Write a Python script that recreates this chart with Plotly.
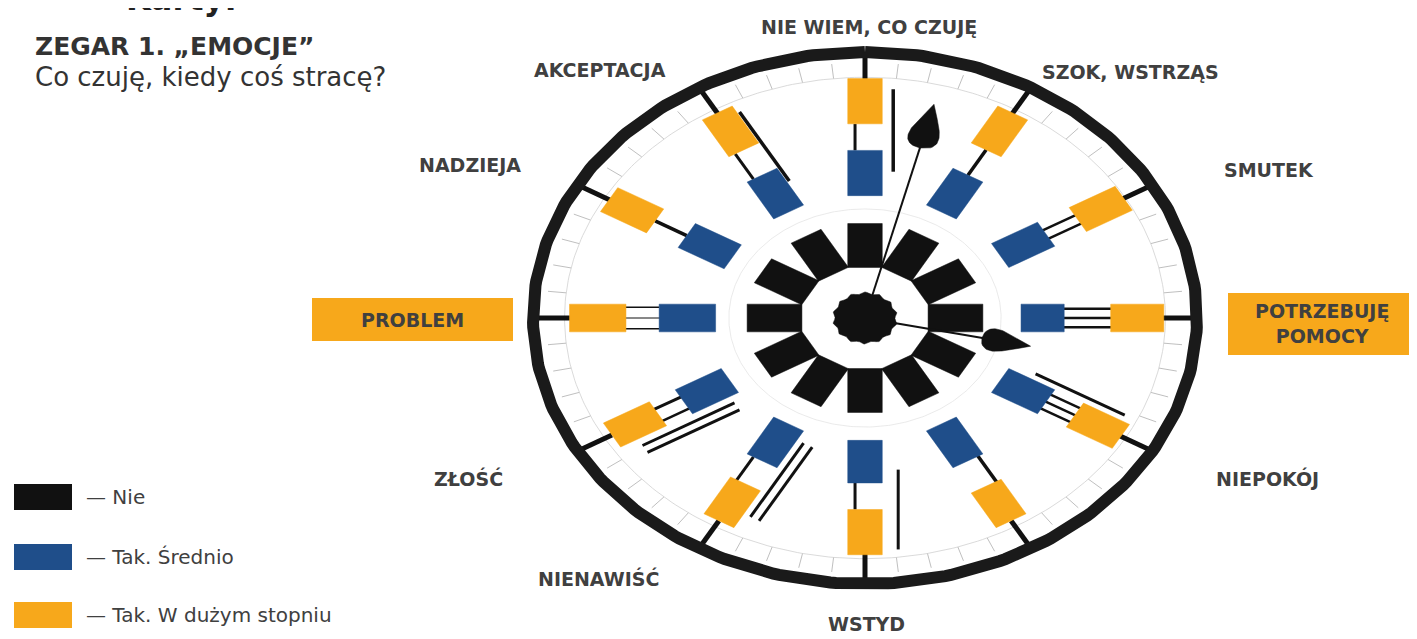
import numpy as np
import plotly.graph_objects as go

# ---------------- data ----------------
spoke_angles = [0, 30, 60, 90, 120, 150, 180, 210, 240, 270, 300, 330]  # degrees clockwise from 12 o'clock
black_r0 = [0.19] * 12
black_r1 = [0.355] * 12
blue_r0 = [0.46, 0.46, 0.47, 0.47, 0.47, 0.46, 0.46, 0.46, 0.47, 0.45, 0.46, 0.46]
blue_r1 = [0.63, 0.62, 0.63, 0.60, 0.63, 0.62, 0.62, 0.62, 0.63, 0.62, 0.62, 0.62]
yellow_r0 = [0.73, 0.73, 0.74, 0.74, 0.73, 0.73, 0.72, 0.72, 0.72, 0.72, 0.73, 0.73]
yellow_r1 = [0.90, 0.89, 0.90, 0.90, 0.89, 0.88, 0.89, 0.88, 0.88, 0.89, 0.89, 0.89]

# decorative connector lines: (spoke angle, perpendicular offset, r0, r1, width)
connectors = [
    (0, -0.03, 0.63, 0.73, 3), (0, 0.085, 0.55, 0.86, 3.5),
    (30, 0.0, 0.62, 0.73, 3.5),
    (60, -0.018, 0.60, 0.76, 2.5), (60, 0.018, 0.60, 0.76, 2.5),
    (90, -0.035, 0.58, 0.76, 2.5), (90, 0.0, 0.58, 0.76, 2.5), (90, 0.035, 0.58, 0.76, 2.5),
    (120, -0.03, 0.60, 0.76, 2.5), (120, 0.0, 0.60, 0.76, 2.5), (120, 0.03, 0.60, 0.76, 2.5),
    (120, -0.075, 0.55, 0.86, 3),
    (150, -0.035, 0.60, 0.80, 3.5),
    (180, 0.03, 0.62, 0.72, 3), (180, -0.1, 0.57, 0.87, 3),
    (210, 0.03, 0.62, 0.73, 3), (210, -0.075, 0.50, 0.82, 3), (210, -0.105, 0.50, 0.82, 3),
    (240, 0.02, 0.62, 0.73, 3), (240, -0.03, 0.60, 0.74, 2.5),
    (240, -0.08, 0.50, 0.82, 3), (240, -0.11, 0.50, 0.82, 3),
    (270, -0.04, 0.62, 0.73, 1.5), (270, 0.04, 0.62, 0.73, 1.5), (270, 0.0, 0.55, 0.80, 1),
    (300, 0.0, 0.62, 0.73, 3.5),
    (330, -0.03, 0.62, 0.73, 3), (330, 0.06, 0.56, 0.86, 3.5),
]

# clock hands: (angle, length, spade start, spade end, spade half width)
hands = [(14.5, 0.68, 0.66, 0.83, 0.047), (102, 0.38, 0.36, 0.51, 0.042)]

labels = ["NIE WIEM, CO CZUJĘ", "SZOK, WSTRZĄS", "SMUTEK", "POTRZEBUJĘ<br>POMOCY", "NIEPOKÓJ",
          "WSTYD", "NIENAWIŚĆ", "ZŁOŚĆ", "PROBLEM", "NADZIEJA", "AKCEPTACJA"]
label_x = [869, 1130, 1269, 1322, 1267, 866, 598, 468, 412, 470, 600]
label_y = [27, 72, 170, 323, 478, 624, 578, 478, 320, 165, 70]

legend_names = ["— Nie", "— Tak. Średnio", "— Tak. W dużym stopniu"]

# ---------------- geometry / style ----------------
CX, CY, RX, RY = 865, 318, 332, 266
HW = 0.052
C_BLACK = "#111111"
C_BLUE = "#1f4e8a"
C_YELLOW = "#f7a81b"
FONT = "DejaVu Sans"
PAGE_MARGIN = 8  # default body margin of the html page


def to_px(X, Y):
    return CX + RX * np.asarray(X), CY - RY * np.asarray(Y)


def basis(theta):
    t = np.radians(theta)
    u = np.array([np.sin(t), np.cos(t)])
    v = np.array([np.cos(t), -np.sin(t)])
    return u, v


def rect(theta, r0, r1, hw=HW):
    u, v = basis(theta)
    pts = [r0 * u - hw * v, r1 * u - hw * v, r1 * u + hw * v, r0 * u + hw * v, r0 * u - hw * v]
    return to_px([p[0] for p in pts], [p[1] for p in pts])


def poly_trace(xs, ys, color):
    return go.Scatter(x=xs, y=ys, mode="lines", fill="toself", fillcolor=color,
                      line=dict(color=color, width=0.5), hoverinfo="skip", showlegend=False)


def line_trace(xs, ys, color, width):
    return go.Scatter(x=xs, y=ys, mode="lines", line=dict(color=color, width=width),
                      hoverinfo="skip", showlegend=False)


fig = go.Figure()

phi = np.linspace(0, 2 * np.pi, 361)

# minute tick circle and ticks
x, y = to_px(0.905 * np.sin(phi), 0.905 * np.cos(phi))
fig.add_trace(line_trace(x, y, "#d0d0d0", 0.8))
tx, ty = [], []
for k in range(60):
    u, v = basis(k * 6)
    a = to_px(*(0.905 * u))
    b = to_px(*(0.96 * u))
    tx += [float(a[0]), float(b[0]), None]
    ty += [float(a[1]), float(b[1]), None]
fig.add_trace(line_trace(tx, ty, "#b8b8b8", 0.9))

# faint inner guide circle
x, y = to_px(0.41 * np.sin(phi), 0.41 * np.cos(phi))
fig.add_trace(line_trace(x, y, "#e4e4e4", 0.8))

# hour ticks
hx, hy = [], []
for th in spoke_angles:
    u, v = basis(th)
    a = to_px(*(0.88 * u))
    b = to_px(*(0.99 * u))
    hx += [float(a[0]), float(b[0]), None]
    hy += [float(a[1]), float(b[1]), None]
fig.add_trace(line_trace(hx, hy, C_BLACK, 5))

# outer ring
x, y = to_px(np.sin(phi), np.cos(phi))
fig.add_trace(line_trace(x, y, "#1a1a1a", 12))

# connectors
for th, off, r0, r1, w in connectors:
    u, v = basis(th)
    p0 = r0 * u + off * v
    p1 = r1 * u + off * v
    xs, ys = to_px([p0[0], p1[0]], [p0[1], p1[1]])
    fig.add_trace(line_trace(xs, ys, C_BLACK, w))

# rectangles
for rs0, rs1, col in [(black_r0, black_r1, C_BLACK), (blue_r0, blue_r1, C_BLUE),
                      (yellow_r0, yellow_r1, C_YELLOW)]:
    xs, ys = [], []
    for th, r0, r1 in zip(spoke_angles, rs0, rs1):
        px, py = rect(th, r0, r1)
        xs += list(px) + [None]
        ys += list(py) + [None]
    fig.add_trace(poly_trace(xs, ys, col))

# hands
for th, length, s0, s1, sw in hands:
    u, v = basis(th)
    xs, ys = to_px([0, length * u[0]], [0, length * u[1]])
    fig.add_trace(line_trace(xs, ys, C_BLACK, 2))
    t = np.linspace(0, 1, 40)
    prof = sw * np.sin(np.pi * np.sqrt(t))
    left = [(s0 + (s1 - s0) * ti) * u + pi_ * v for ti, pi_ in zip(t, prof)]
    right = [(s0 + (s1 - s0) * ti) * u - pi_ * v for ti, pi_ in zip(t[::-1], prof[::-1])]
    pts = left + right
    xs, ys = to_px([p[0] for p in pts], [p[1] for p in pts])
    fig.add_trace(poly_trace(list(xs), list(ys), C_BLACK))

# scalloped centre
r_c = 0.094 + 0.004 * np.cos(14 * phi)
x, y = to_px(r_c * np.sin(phi), r_c * np.cos(phi))
fig.add_trace(poly_trace(x, y, C_BLACK))

# legend swatches
leg_cols = [C_BLACK, C_BLUE, C_YELLOW]
leg_y = [497, 557, 615]
for col, yy in zip(leg_cols, leg_y):
    fig.add_shape(type="rect", x0=14, x1=72, y0=yy - 13, y1=yy + 13,
                  fillcolor=col, line=dict(width=0), xref="x", yref="y", layer="below")

# orange label boxes
fig.add_shape(type="rect", x0=312, x1=513, y0=298, y1=341, fillcolor=C_YELLOW,
              line=dict(width=0), layer="below")
fig.add_shape(type="rect", x0=1228, x1=1420, y0=293, y1=355, fillcolor=C_YELLOW,
              line=dict(width=0), layer="below")

annotations = []
for t, xx, yy in zip(labels, label_x, label_y):
    annotations.append(dict(x=xx, y=yy, text=t, showarrow=False, xref="x", yref="y",
                            font=dict(family=FONT, size=19, color="#404040", weight="bold"),
                            xanchor="center", yanchor="middle", align="center"))
for t, yy in zip(legend_names, leg_y):
    annotations.append(dict(x=84, y=yy, text=t, showarrow=False, xref="x", yref="y",
                            font=dict(family=FONT, size=20, color="#404040"),
                            xanchor="left", yanchor="middle"))
annotations.append(dict(x=33, y=46, text="ZEGAR 1. „EMOCJE”", showarrow=False, xref="x",
                        yref="y", font=dict(family=FONT, size=25, color="#333333", weight="bold"),
                        xanchor="left", yanchor="middle"))
annotations.append(dict(x=33, y=77, text="Co czuję, kiedy coś stracę?", showarrow=False,
                        xref="x", yref="y", font=dict(family=FONT, size=26, color="#333333"),
                        xanchor="left", yanchor="middle"))
annotations.append(dict(x=124, y=20, text="Karty:", showarrow=False, xref="x",
                        yref="y", font=dict(family=FONT, size=32, color="#222222", weight="bold"),
                        xanchor="left", yanchor="bottom"))

fig.update_layout(
    width=1417 - PAGE_MARGIN, height=639 - PAGE_MARGIN, autosize=False,
    margin=dict(l=0, r=0, t=0, b=0, pad=0),
    paper_bgcolor="white", plot_bgcolor="white",
    xaxis=dict(range=[PAGE_MARGIN, 1417], visible=False, fixedrange=True),
    yaxis=dict(range=[639, PAGE_MARGIN], visible=False, fixedrange=True),
    annotations=annotations,
    showlegend=False,
)

fig.write_html("out.html")
